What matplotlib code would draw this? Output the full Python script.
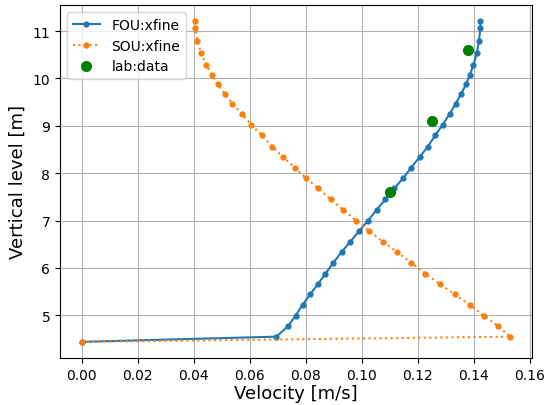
import matplotlib
matplotlib.use('Agg')
from matplotlib import pyplot as plt

# vertical levels shared by both simulations [m]
z = [4.44, 4.55, 4.77, 4.99, 5.22, 5.44, 5.66, 5.88, 6.11, 6.34, 6.55,
     6.78, 7.00, 7.23, 7.45, 7.68, 7.89, 8.12, 8.34, 8.56, 8.80, 9.02,
     9.25, 9.47, 9.68, 9.88, 10.07, 10.28, 10.53, 10.79, 11.07, 11.21]

u_fou = [0.0, 0.0696, 0.0737, 0.0764, 0.0789, 0.0816, 0.0844, 0.0871,
         0.0899, 0.0929, 0.0959, 0.0991, 0.1023, 0.1054, 0.1085, 0.1116,
         0.1148, 0.1177, 0.1207, 0.1236, 0.1263, 0.1289, 0.1314, 0.1336,
         0.1356, 0.1373, 0.1386, 0.1399, 0.1411, 0.1419, 0.1424, 0.1424]

u_sou = [0.0, 0.1531, 0.1488, 0.1437, 0.1386, 0.1333, 0.1280, 0.1228,
         0.1177, 0.1126, 0.1076, 0.1028, 0.0980, 0.0934, 0.0889, 0.0845,
         0.0802, 0.0761, 0.0720, 0.0681, 0.0644, 0.0606, 0.0573, 0.0539,
         0.0511, 0.0486, 0.0466, 0.0446, 0.0427, 0.0414, 0.0406, 0.0405]

u_lab = [0.110, 0.125, 0.138]
z_lab = [7.6, 9.1, 10.6]

fig, ax = plt.subplots(figsize=(5.46, 4.06), dpi=100)
fig.subplots_adjust(left=0.110, right=0.974, top=0.985, bottom=0.116)

ax.plot(u_fou, z, '-o', color='#1f77b4', markersize=3.5, linewidth=1.5, label='FOU:xfine')
ax.plot(u_sou, z, ':o', color='#ff7f0e', markersize=3.5, linewidth=1.5, label='SOU:xfine')
ax.plot(u_lab, z_lab, 'o', color='green', markersize=7, label='lab:data')

ax.set_xlabel('Velocity [m/s]', fontsize=13, labelpad=2)
ax.set_ylabel('Vertical level [m]', fontsize=13)
ax.grid(True, color='#b0b0b0', linewidth=0.8)
ax.legend(loc='upper left', fontsize=10)

fig.savefig('out.png', dpi=100)
